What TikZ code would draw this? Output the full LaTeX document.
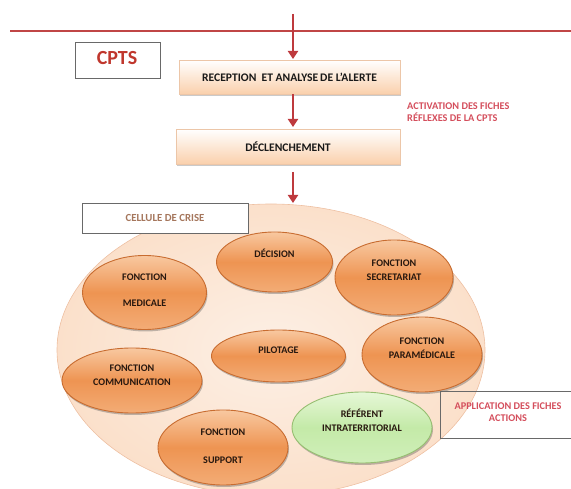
\documentclass[tikz,border=0pt]{standalone}
\usepackage{fontspec}
\setmainfont{Carlito}
\usetikzlibrary{arrows.meta,shapes.geometric,shadows,calc}
\definecolor{lineRed}{RGB}{192,70,70}
\definecolor{arrRed}{RGB}{190,58,62}
\definecolor{cptsRed}{RGB}{192,55,45}
\definecolor{actRed}{RGB}{212,78,92}
\definecolor{celTxt}{RGB}{165,118,92}
\definecolor{boxGray}{RGB}{105,105,105}
\definecolor{rectBot}{RGB}{250,208,172}
\definecolor{rectEdge}{RGB}{236,198,168}
\definecolor{bigFill}{RGB}{251,227,208}
\definecolor{bigEdge}{RGB}{238,192,162}
\definecolor{ellTop}{RGB}{248,200,160}
\definecolor{ellMid}{RGB}{238,148,82}
\definecolor{ellBot}{RGB}{243,172,118}
\definecolor{ellEdge}{RGB}{200,108,48}
\definecolor{grnTop}{RGB}{230,247,215}
\definecolor{grnMid}{RGB}{196,234,168}
\definecolor{grnBot}{RGB}{208,239,186}
\definecolor{grnEdge}{RGB}{150,190,112}
\definecolor{lblTxt}{RGB}{40,24,15}
\tikzset{
  flowarrow/.style={draw=arrRed, line width=2.6pt, -{Triangle[width=10pt,length=8pt]}},
  stepbox/.style={rectangle, draw=rectEdge, line width=0.5pt, top color=white, bottom color=rectBot,
    drop shadow={shadow xshift=1.2pt, shadow yshift=-1.8pt, opacity=0.35, fill=black!60},
    font=\fontsize{11.6}{13}\selectfont\bfseries, text=black!90, inner sep=0pt},
  framebox/.style={rectangle, draw=boxGray, line width=0.8pt, fill=white, inner sep=0pt},
  fn/.style={ellipse, draw=ellEdge, line width=0.9pt, top color=ellTop, bottom color=ellBot, middle color=ellMid,
    drop shadow={shadow xshift=1pt, shadow yshift=-2pt, opacity=0.35, fill=black!70}, inner sep=0pt},
  gfn/.style={fn, draw=grnEdge, top color=grnTop, bottom color=grnBot, middle color=grnMid},
  lbl/.style={font=\fontsize{10.1}{11.2}\selectfont\bfseries, text=lblTxt, inner sep=0pt, align=center},
  redlbl/.style={font=\fontsize{10.3}{11.6}\selectfont\bfseries, text=actRed, inner sep=0pt, align=left}
}
\begin{document}
\begin{tikzpicture}[x=1pt,y=-1pt]
\useasboundingbox (0,0) rectangle (571,489);
% big ellipse (cellule de crise zone)
\node (big) [ellipse, draw=bigEdge, line width=0.6pt, inner color=bigFill!55!white, outer color=bigFill!85!rectBot,
  minimum width=428pt, minimum height=292pt, inner sep=0pt] at (271,350) {};
% top line and arrows
\coordinate (lineL) at (10,31);
\coordinate (lineR) at (571,31);
\draw[lineRed, line width=1.6pt] (lineL) -- (lineR);
\coordinate (topin) at (293,14);
% boxes
\node (cpts) [framebox, minimum width=85pt, minimum height=36pt] at (117.5,60) {};
\node (cptsT) [font=\fontsize{20}{22}\selectfont\bfseries, text=cptsRed, inner sep=0pt] at (117,58.5) {CPTS};
\node (rec) [stepbox, minimum width=221pt, minimum height=34pt] at (289.5,77) {RECEPTION\ \ ET ANALYSE\,DE L’ALERTE};
\node (dec0) [stepbox, minimum width=224pt, minimum height=35pt] at (288,146.5) {DÉCLENCHEMENT};
\node (act) [redlbl, anchor=west] at (407,112) {ACTIVATION DES FICHES\\RÉFLEXES DE LA CPTS};
\coordinate (bigtop) at (293,203);
\draw[flowarrow] (topin) -- (293,59);
\draw[flowarrow] (293,94) -- (293,127);
\draw[flowarrow] (293,172) -- (bigtop);
% cellule de crise label
\node (cel) [framebox, minimum width=166pt, minimum height=30pt, font=\fontsize{10.8}{12}\selectfont\bfseries, text=celTxt] at (165,218) {CELLULE DE CRISE};
% function ellipses
\node (med) [fn, minimum width=124pt, minimum height=74pt] at (144.5,292.5) {};
\node (medT) [lbl] at (144.5,277) {FONCTION};
\node (medB) [lbl] at (144.5,303) {MEDICALE};
\node (deci) [fn, minimum width=116pt, minimum height=60pt] at (274.5,262) {};
\node (deciT) [lbl] at (274.5,253) {DÉCISION};
\node (sec) [fn, minimum width=118pt, minimum height=75pt] at (394,277.5) {};
\node (secT) [lbl] at (394,270.5) {FONCTION\\[3pt]SECRETARIAT};
\node (pil) [fn, minimum width=134pt, minimum height=52pt] at (278.5,356) {};
\node (pilT) [lbl] at (278.5,350) {PILOTAGE};
\node (para) [fn, minimum width=120pt, minimum height=75pt] at (422,354.5) {};
\node (paraT) [lbl] at (422,348) {FONCTION\\[3pt]PARAMÉDICALE};
\node (com) [fn, minimum width=140pt, minimum height=65pt] at (132,380.5) {};
\node (comT) [lbl] at (132,375.5) {FONCTION\\[3pt]COMMUNICATION};
\node (sup) [fn, minimum width=130pt, minimum height=75pt] at (223,447.5) {};
\node (supT) [lbl] at (223,432) {FONCTION};
\node (supB) [lbl] at (223,460) {SUPPORT};
\node (ref) [gfn, minimum width=140pt, minimum height=71pt] at (362,427.5) {};
\node (refT) [lbl] at (362,420.5) {RÉFÉRENT\\[3pt]INTRATERRITORIAL};
% application box
\draw[boxGray, line width=0.8pt] (575,391) -- (440,391) -- (440,438) -- (575,438);
\node (app) [redlbl, align=center] at (508,412) {APPLICATION DES FICHES\\ACTIONS};
\end{tikzpicture}
\end{document}
